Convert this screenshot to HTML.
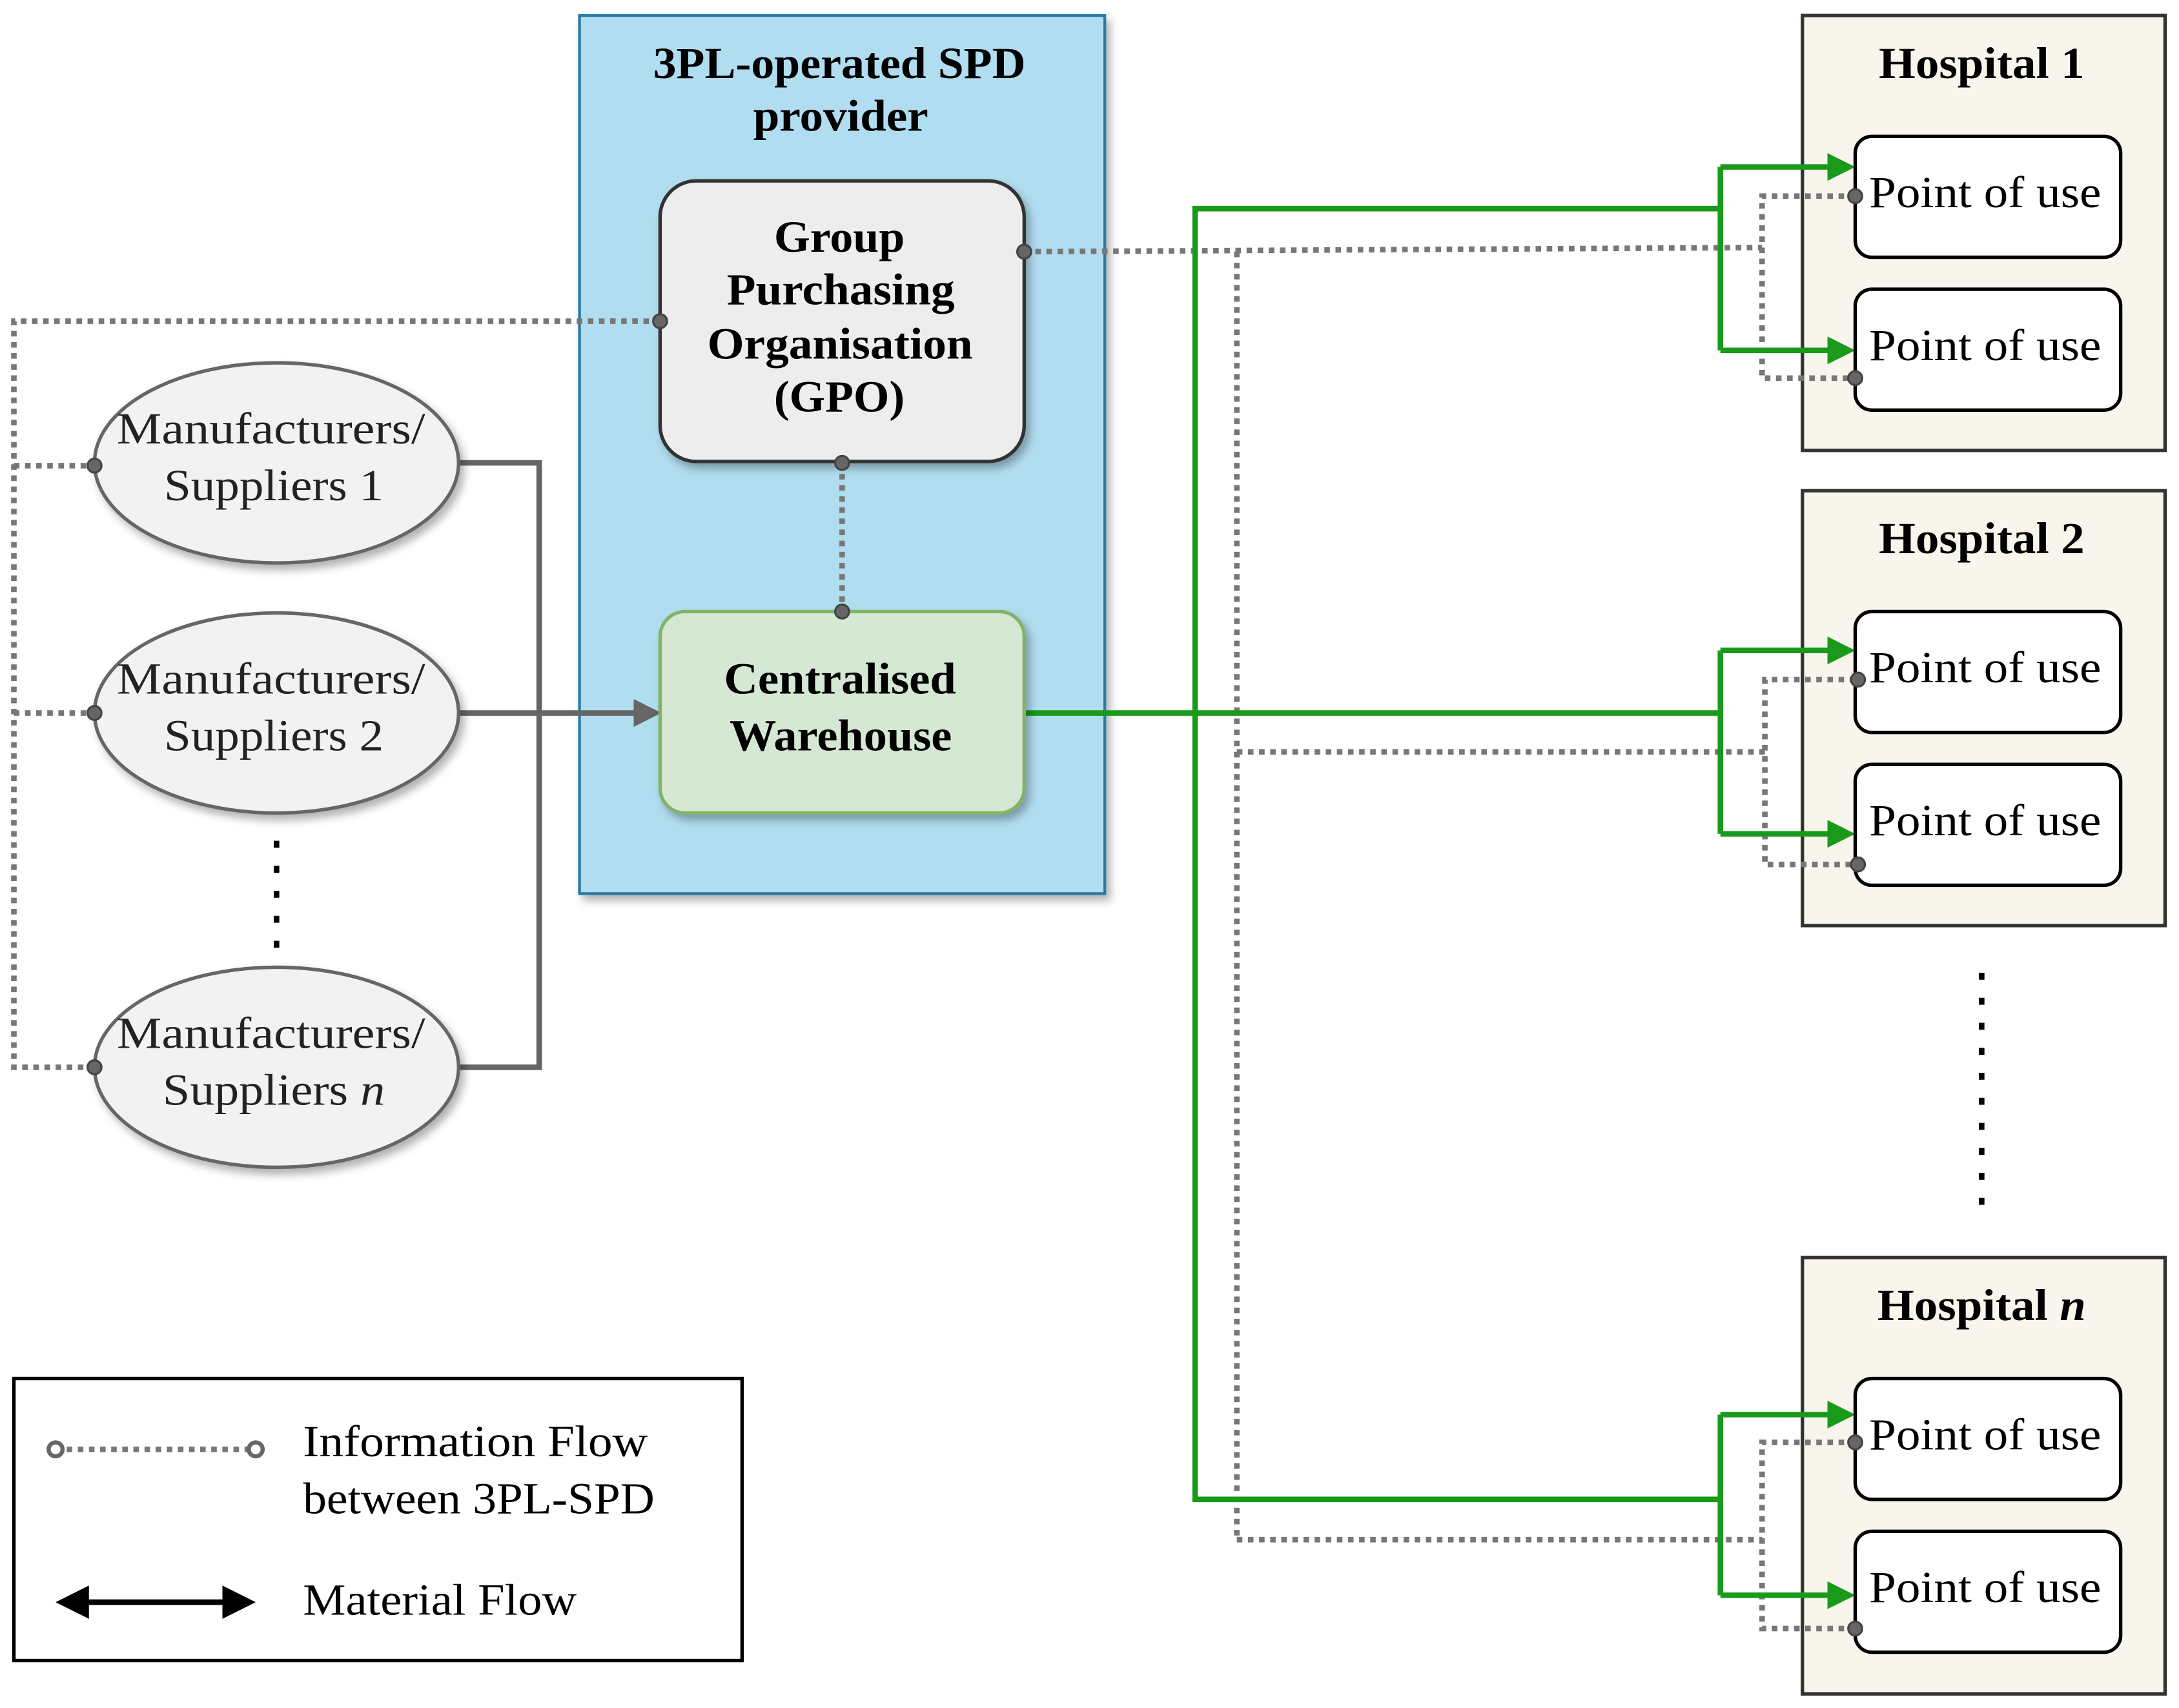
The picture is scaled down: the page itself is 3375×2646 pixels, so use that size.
<!DOCTYPE html>
<html><head><meta charset="utf-8"><style>
html,body{margin:0;padding:0;background:#fff;}
svg{display:block;}
text{font-family:"Liberation Serif",serif;}
</style></head><body>
<svg width="3375" height="2646" viewBox="0 0 1568 1229" xmlns="http://www.w3.org/2000/svg">
<defs>
<marker id="ag" markerWidth="5" markerHeight="5" refX="4" refY="2.5" orient="auto" markerUnits="strokeWidth"><path d="M0,0 L5,2.5 L0,5 z" fill="#1a9a1a"/></marker>
<marker id="agr" markerWidth="5" markerHeight="5" refX="4" refY="2.5" orient="auto" markerUnits="strokeWidth"><path d="M0,0 L5,2.5 L0,5 z" fill="#666"/></marker>
<marker id="ak" markerWidth="6" markerHeight="6" refX="5" refY="3" orient="auto-start-reverse" markerUnits="strokeWidth"><path d="M0,0 L6,3 L0,6 z" fill="#000"/></marker>
<filter id="sh" x="-10%" y="-10%" width="130%" height="130%"><feDropShadow dx="3" dy="4" stdDeviation="3" flood-color="#000" flood-opacity="0.3"/></filter>
</defs>

<rect x="417" y="11" width="378" height="632" fill="#b1ddf0" stroke="#2b7aa8" stroke-width="2" filter="url(#sh)"/>
<g font-size="32" font-weight="bold" lengthAdjust="spacingAndGlyphs">
<text x="470" y="56" textLength="268" lengthAdjust="spacingAndGlyphs">3PL-operated SPD</text>
<text x="542" y="94" textLength="126" lengthAdjust="spacingAndGlyphs">provider</text>
</g>

<g stroke="#333" stroke-width="2.5" fill="#f7f5ec">
<rect x="1297" y="11" width="261" height="313"/>
<rect x="1297" y="353" width="261" height="313"/>
<rect x="1297" y="905" width="261" height="314"/>
</g>
<g font-size="32" font-weight="bold">
<text x="1352" y="56" textLength="148" lengthAdjust="spacingAndGlyphs">Hospital 1</text>
<text x="1352" y="398" textLength="148" lengthAdjust="spacingAndGlyphs">Hospital 2</text>
<text x="1351" y="950" textLength="150" lengthAdjust="spacingAndGlyphs">Hospital <tspan font-style="italic">n</tspan></text>
</g>

<g fill="none" stroke="#777" stroke-width="4" stroke-dasharray="4,4">
<polyline points="475,231 10,231 10,768 68,768"/>
<line x1="10" y1="335" x2="68" y2="335"/>
<line x1="10" y1="513" x2="68" y2="513"/>
<line x1="606" y1="333" x2="606" y2="440"/>
<line x1="737" y1="181" x2="1268" y2="178"/>
<polyline points="1335,141 1268,141 1268,272 1335,272"/>
<line x1="890" y1="181" x2="890" y2="1108"/>
<line x1="890" y1="541" x2="1270" y2="541"/>
<polyline points="1335,489 1270,489 1270,622 1335,622"/>
<line x1="890" y1="1108" x2="1268" y2="1108"/>
<polyline points="1335,1038 1268,1038 1268,1172 1335,1172"/>
</g>

<g fill="none" stroke="#1a9a1a" stroke-width="4">
<line x1="737" y1="513" x2="1238" y2="513"/>
<polyline points="1238,150 860,150 860,1079 1238,1079"/>
<line x1="1238" y1="120" x2="1238" y2="252"/>
<line x1="1238" y1="468" x2="1238" y2="600"/>
<line x1="1238" y1="1018" x2="1238" y2="1148"/>
<g marker-end="url(#ag)">
<line x1="1238" y1="120" x2="1331" y2="120"/>
<line x1="1238" y1="252" x2="1331" y2="252"/>
<line x1="1238" y1="468" x2="1331" y2="468"/>
<line x1="1238" y1="600" x2="1331" y2="600"/>
<line x1="1238" y1="1018" x2="1331" y2="1018"/>
<line x1="1238" y1="1148" x2="1331" y2="1148"/>
</g>
</g>

<g fill="none" stroke="#666" stroke-width="4">
<polyline points="330,333 388,333 388,768 330,768"/>
<line x1="330" y1="513" x2="472" y2="513" marker-end="url(#agr)"/>
</g>

<rect x="475" y="130" width="262" height="202" rx="26" fill="#ededed" stroke="#333" stroke-width="2.5" filter="url(#sh)"/>
<g font-size="32" font-weight="bold">
<text x="557" y="181" textLength="94" lengthAdjust="spacingAndGlyphs">Group</text>
<text x="523" y="219" textLength="164" lengthAdjust="spacingAndGlyphs">Purchasing</text>
<text x="509" y="258" textLength="191" lengthAdjust="spacingAndGlyphs">Organisation</text>
<text x="557" y="296" textLength="94" lengthAdjust="spacingAndGlyphs">(GPO)</text>
</g>
<rect x="475" y="440" width="262" height="145" rx="18" fill="#d5e8d4" stroke="#82b366" stroke-width="2.5" filter="url(#sh)"/>
<g font-size="32" font-weight="bold">
<text x="521" y="499" textLength="167" lengthAdjust="spacingAndGlyphs">Centralised</text>
<text x="525" y="540" textLength="160" lengthAdjust="spacingAndGlyphs">Warehouse</text>
</g>

<g fill="#f2f2f2" stroke="#666" stroke-width="2.5" filter="url(#sh)">
<ellipse cx="199" cy="333" rx="131" ry="72"/>
<ellipse cx="199" cy="513" rx="131" ry="72"/>
<ellipse cx="199" cy="768" rx="131" ry="72"/>
</g>
<g font-size="32" fill="#222">
<text x="84" y="319" textLength="222" lengthAdjust="spacingAndGlyphs">Manufacturers/</text>
<text x="118" y="360" textLength="158" lengthAdjust="spacingAndGlyphs">Suppliers 1</text>
<text x="84" y="499" textLength="222" lengthAdjust="spacingAndGlyphs">Manufacturers/</text>
<text x="118" y="540" textLength="158" lengthAdjust="spacingAndGlyphs">Suppliers 2</text>
<text x="84" y="754" textLength="222" lengthAdjust="spacingAndGlyphs">Manufacturers/</text>
<text x="117" y="795" textLength="160" lengthAdjust="spacingAndGlyphs">Suppliers <tspan font-style="italic">n</tspan></text>
</g>
<line x1="199" y1="605" x2="199" y2="682" stroke="#000" stroke-width="4" stroke-dasharray="5,13"/>
<line x1="1426" y1="700" x2="1426" y2="870" stroke="#000" stroke-width="4" stroke-dasharray="5,13"/>

<g fill="#fff" stroke="#000" stroke-width="2.5">
<rect x="1335" y="98" width="191" height="87" rx="12"/>
<rect x="1335" y="208" width="191" height="87" rx="12"/>
<rect x="1335" y="440" width="191" height="87" rx="12"/>
<rect x="1335" y="550" width="191" height="87" rx="12"/>
<rect x="1335" y="992" width="191" height="87" rx="12"/>
<rect x="1335" y="1102" width="191" height="87" rx="12"/>
</g>
<g font-size="32">
<text x="1345" y="149" textLength="167" lengthAdjust="spacingAndGlyphs">Point of use</text>
<text x="1345" y="259" textLength="167" lengthAdjust="spacingAndGlyphs">Point of use</text>
<text x="1345" y="491" textLength="167" lengthAdjust="spacingAndGlyphs">Point of use</text>
<text x="1345" y="601" textLength="167" lengthAdjust="spacingAndGlyphs">Point of use</text>
<text x="1345" y="1043" textLength="167" lengthAdjust="spacingAndGlyphs">Point of use</text>
<text x="1345" y="1153" textLength="167" lengthAdjust="spacingAndGlyphs">Point of use</text>
</g>

<g fill="#666" stroke="#444" stroke-width="1.5">
<circle cx="475" cy="231" r="5"/><circle cx="68" cy="335" r="5"/><circle cx="68" cy="513" r="5"/><circle cx="68" cy="768" r="5"/>
<circle cx="606" cy="333" r="5"/><circle cx="606" cy="440" r="5"/><circle cx="737" cy="181" r="5"/>
<circle cx="1335" cy="141" r="5"/><circle cx="1335" cy="272" r="5"/>
<circle cx="1337" cy="489" r="5"/><circle cx="1337" cy="622" r="5"/>
<circle cx="1335" cy="1038" r="5"/><circle cx="1335" cy="1172" r="5"/>
</g>

<rect x="10" y="992" width="524" height="203" fill="#fff" stroke="#000" stroke-width="2.5"/>
<line x1="40" y1="1043" x2="184" y2="1043" stroke="#777" stroke-width="4" stroke-dasharray="4,4"/>
<circle cx="40" cy="1043" r="5" fill="#fff" stroke="#666" stroke-width="3"/>
<circle cx="184" cy="1043" r="5" fill="#fff" stroke="#666" stroke-width="3"/>
<line x1="44" y1="1153" x2="180" y2="1153" stroke="#000" stroke-width="4" marker-start="url(#ak)" marker-end="url(#ak)"/>
<g font-size="32">
<text x="218" y="1048" textLength="248" lengthAdjust="spacingAndGlyphs">Information Flow</text>
<text x="218" y="1089" textLength="253" lengthAdjust="spacingAndGlyphs">between 3PL-SPD</text>
<text x="218" y="1162" textLength="197" lengthAdjust="spacingAndGlyphs">Material Flow</text>
</g>
</svg>
</body></html>
